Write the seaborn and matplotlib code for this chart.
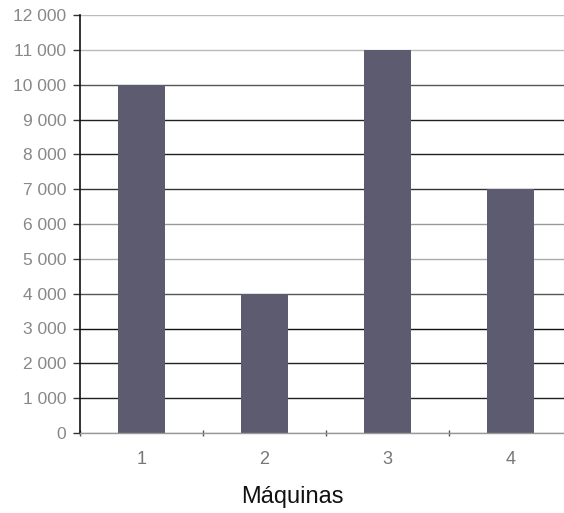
import matplotlib
matplotlib.use("Agg")
import matplotlib.pyplot as plt
import seaborn as sns
import pandas as pd
from matplotlib.ticker import FuncFormatter, FixedLocator

maquinas = ["1", "2", "3", "4"]
valores = [10000, 4000, 11000, 7000]
y_ticks = list(range(0, 13000, 1000))

sns.set_theme(style="white")
plt.rcParams['font.family'] = ['Liberation Sans', 'DejaVu Sans']

df = pd.DataFrame({"Máquinas": maquinas, "Valor": valores})

fig = plt.figure(figsize=(5.64, 5.13), dpi=100)
ax = fig.add_axes([80/564, 1-433/513, 1-80/564, (433-15)/513])

# gridlines (scan shows varying darkness)
grid_colors = ['#aaaaaa', '#222222', '#222222', '#111111', '#555555', '#aaaaaa',
               '#999999', '#333333', '#222222', '#222222', '#555555', '#bbbbbb', '#bbbbbb']
for yv, c in zip(y_ticks, grid_colors):
    ax.axhline(yv, color=c, lw=1.0, zorder=0)

sns.barplot(data=df, x="Máquinas", y="Valor", color="#5c5b70", width=0.38,
            saturation=1, ax=ax, zorder=2, edgecolor="#5c5b70", linewidth=0)

ax.set_ylim(0, 12000)
ax.set_xlim(-0.5, 3.435)
ax.yaxis.set_major_locator(FixedLocator(y_ticks))
ax.yaxis.set_major_formatter(FuncFormatter(lambda v, p: f"{int(v):,}".replace(",", " ")))

for s in ["top", "right"]:
    ax.spines[s].set_visible(False)
ax.spines["left"].set_color("#111111")
ax.spines["left"].set_linewidth(1.2)
ax.spines["bottom"].set_color("#999999")
ax.spines["bottom"].set_linewidth(1.0)

ax.tick_params(axis="y", which="major", left=True, length=5, width=1, color="#333333",
               labelsize=12.5, labelcolor="#888888", pad=5)
ax.tick_params(axis="x", which="major", bottom=False, labelsize=13, labelcolor="#777777", pad=7)
ax.xaxis.set_minor_locator(FixedLocator([-0.5, 0.5, 1.5, 2.5]))
ax.tick_params(axis="x", which="minor", bottom=True, length=5, width=1, color="#555555",
               direction="inout")

ax.set_ylabel("")
ax.set_xlabel("Máquinas", fontsize=17, color="#111111")
ax.xaxis.set_label_coords((292 - 80) / 484, -(497 - 433) / 418, transform=ax.transAxes)
ax.xaxis.label.set_va("center")

fig.savefig("out.png", dpi=100)
